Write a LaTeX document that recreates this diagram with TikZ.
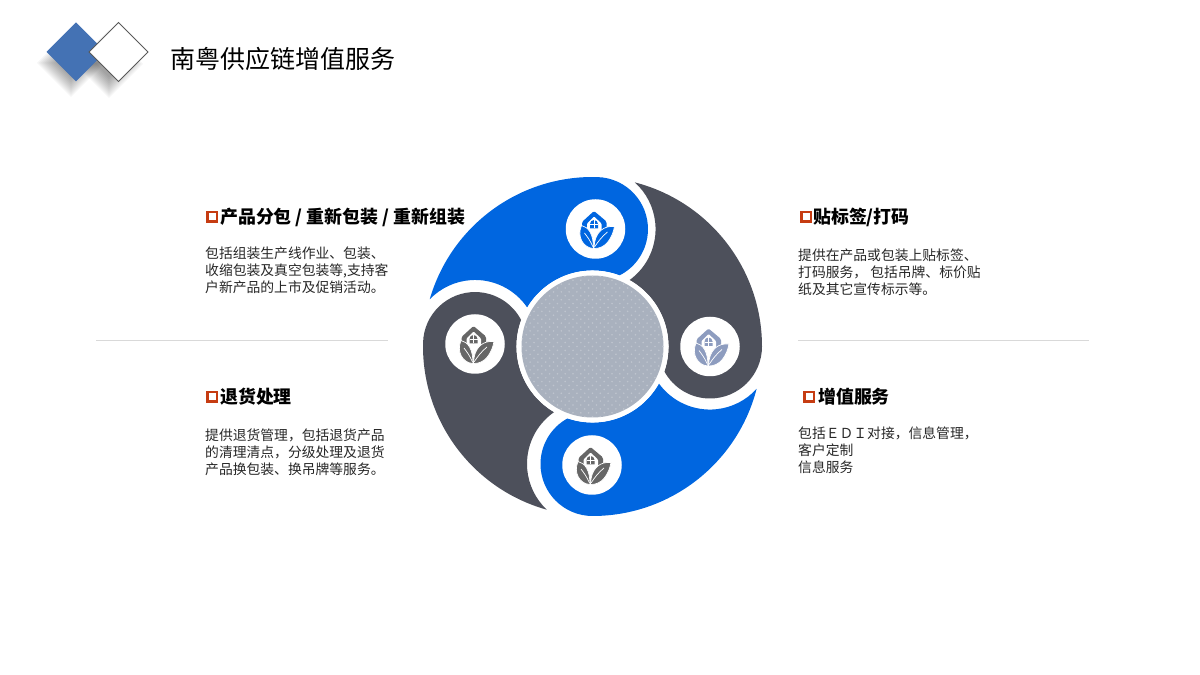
\documentclass[tikz,border=0pt]{standalone}
\usepackage{fontspec}
\setmainfont{Noto Sans CJK SC}
\usepackage{tikz}
\usetikzlibrary{shapes.geometric}
\definecolor{petalblue}{HTML}{0066E0}
\definecolor{petaldark}{HTML}{4D505B}
\definecolor{hubgrey}{HTML}{A9B1BE}
\definecolor{markred}{HTML}{C63C12}
\definecolor{diamondblue}{HTML}{4472B4}
\definecolor{iconslate}{HTML}{8D9CBF}
\definecolor{icongrey}{HTML}{666666}
\tikzset{
    heading/.style={anchor=west, inner sep=0pt, font=\fontsize{17.9}{20}\selectfont\bfseries, text=black},
    body/.style={anchor=north west, inner sep=0pt, align=left, font=\fontsize{13.8}{17}\selectfont, text=black!85},
    marker/.style={draw=markred, line width=2.6pt, fill=white, minimum size=9.6pt, inner sep=0pt, rectangle},
    divider/.style={draw=black!15, line width=0.8pt},
    iconback/.style={circle, fill=white, minimum size=59.5pt, inner sep=0pt},
    homeicon/.pic={
        \fill[pic actions, rounded corners=1.5pt] (-13.5,7) -- (-1.5,18) -- (11,7.5) -- (11,-5) -- (-13.5,-5) -- cycle;
        \fill[white, rounded corners=1pt] (-8.5,5.5) -- (-1.5,12.5) -- (6,5.5) -- (6,-7) -- (-8.5,-7) -- cycle;
        \fill[pic actions] (-5.5,0.5) -- (-5.5,5) arc[start angle=180, end angle=0, radius=4] -- (2.5,0.5) -- cycle;
        \draw[white, line width=0.6pt] (-1.5,9) -- (-1.5,0.5) (-5.5,4.5) -- (2.5,4.5);
        \draw[pic actions, draw=white, line width=0.7pt] (-2,-19.5) .. controls (-12,-19) and (-19,-8) .. (-14,3.5) .. controls (-7,2) and (-2,-5) .. cycle;
        \draw[pic actions, draw=white, line width=0.7pt] (-1.5,-19.5) .. controls (10,-20) and (17,-9) .. (19,2.5) .. controls (9,3.5) and (-1,-2) .. cycle;
        \draw[white, line width=0.7pt] (-2.5,-18) .. controls (-5,-12) and (-8,-8) .. (-11,-4);
        \draw[white, line width=0.7pt] (-1,-18) .. controls (3,-12) and (7,-7) .. (12,-3);
    }
}
\newcommand{\petal}{(75.5:169.5) arc[start angle=75.5, end angle=0, radius=169.5]
    arc[start angle=0, end angle=-151.4, radius=52]
    arc[start angle=-19.1, end angle=60.9, radius=76]
    arc[start angle=-54.1, end angle=47.7, radius=63] -- cycle}
\newcommand{\diamondpath}[3]{(#1-#3,#2) -- (#1,#2+#3) -- (#1+#3,#2) -- (#1,#2-#3) -- cycle}
\begin{document}
\begin{tikzpicture}[x=1pt, y=1pt]
    \useasboundingbox (0,0) rectangle (1200,675);
    \foreach \s in {14,16,...,34}{
        \fill[black, opacity=0.04] \diamondpath{71}{612}{\s};
        \fill[black, opacity=0.04] \diamondpath{109}{611}{\s};
    }
    \fill[diamondblue] \diamondpath{76}{623}{29.5};
    \draw[fill=white, draw=black!65, line width=0.8pt] \diamondpath{118.5}{623}{29.5};
    \node[anchor=west, inner sep=0pt, font=\fontsize{25}{30}\selectfont] at (170, 616) (title) {南粤供应链增值服务};

    \begin{scope}[shift={(592.5,328.5)}]
        \fill[petaldark] \petal;
        \fill[petalblue, rotate=-90] \petal;
        \fill[petaldark, rotate=178.8] \petal;
        \fill[petalblue, rotate=88.3] \petal;
        \fill[white] (0,0) circle[radius=76];
        \fill[hubgrey] (0,0) circle[radius=71];
        \clip (0,0) circle[radius=71];
        \foreach \i in {-9,...,9}{
            \foreach \j in {-9,...,9}{
                \fill[white, opacity=0.25] (\i*7.8,\j*7.8) circle[radius=0.9];
                \fill[white, opacity=0.25] (\i*7.8+3.9,\j*7.8+3.9) circle[radius=0.9];
            }
        }
    \end{scope}

    \node[iconback] at (595.5,446) (topicon) {};
    \node[iconback] at (710,328.5) (righticon) {};
    \node[iconback] at (592,210) (bottomicon) {};
    \node[iconback] at (475,331) (lefticon) {};
    \pic[fill=petalblue] at (topicon) {homeicon};
    \pic[fill=iconslate] at (righticon) {homeicon};
    \pic[fill=icongrey] at (bottomicon) {homeicon};
    \pic[fill=icongrey] at (lefticon) {homeicon};

    \draw[divider] (96,335) -- (388,335);
    \draw[divider] (798,335) -- (1089,335);

    \node[marker] at (212,458) (marka) {};
    \node[heading] at (220,458) (heada) {产品分包 / 重新包装 / 重新组装};
    \node[body] at (205,428) (bodya) {包括组装生产线作业、包装、\\收缩包装及真空包装等,支持客\\户新产品的上市及促销活动。};

    \node[marker] at (806,458) (markb) {};
    \node[heading] at (813,458) (headb) {贴标签/打码};
    \node[body] at (798,426) (bodyb) {提供在产品或包装上贴标签、\\打码服务， 包括吊牌、标价贴\\纸及其它宣传标示等。};

    \node[marker] at (212,278) (markc) {};
    \node[heading] at (220,278) (headc) {退货处理};
    \node[body] at (205,246) (bodyc) {提供退货管理，包括退货产品\\的清理清点，分级处理及退货\\产品换包装、换吊牌等服务。};

    \node[marker] at (809,278) (markd) {};
    \node[heading] at (818,278) (headd) {增值服务};
    \node[body] at (798,248) (bodyd) {包括ＥＤＩ对接，信息管理，\\客户定制\\信息服务};
\end{tikzpicture}
\end{document}
